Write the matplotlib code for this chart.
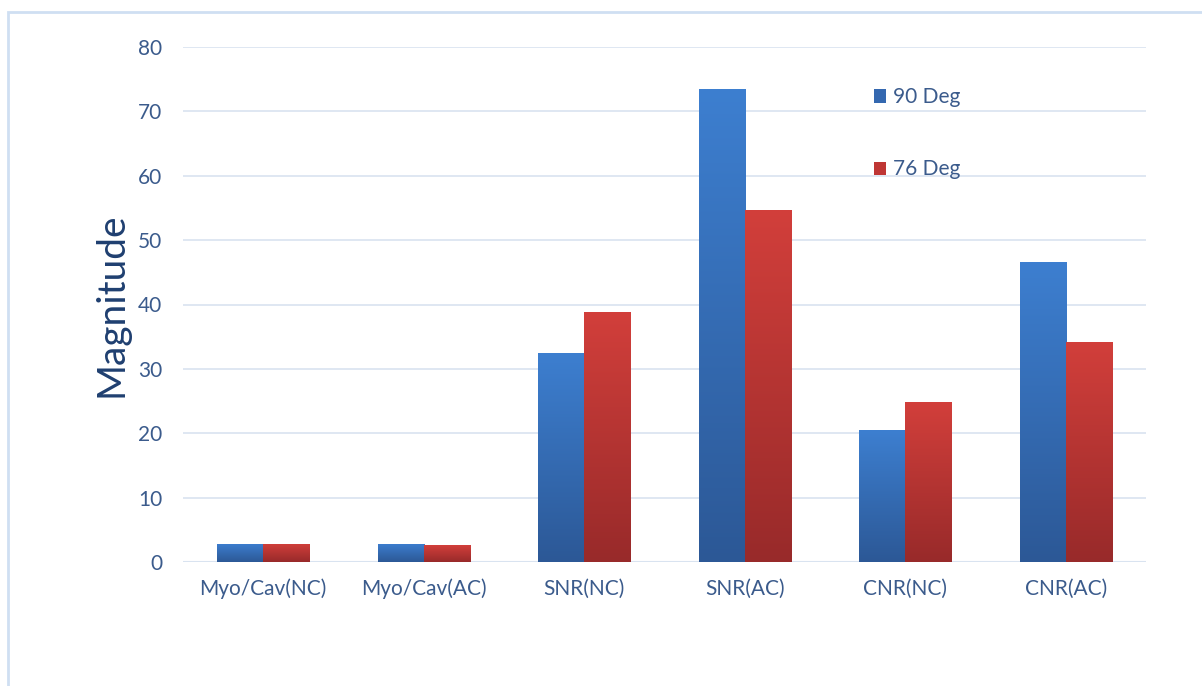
import numpy as np
import matplotlib
matplotlib.use("Agg")
import matplotlib.pyplot as plt
from matplotlib.colors import LinearSegmentedColormap
from matplotlib.patches import Rectangle

# data
categories = ["Myo/Cav(NC)", "Myo/Cav(AC)", "SNR(NC)", "SNR(AC)", "CNR(NC)", "CNR(AC)"]
deg90 = [2.8, 2.8, 32.5, 73.4, 20.5, 46.6]
deg76 = [2.8, 2.6, 38.8, 54.7, 24.8, 34.2]
yticks = [0, 10, 20, 30, 40, 50, 60, 70, 80]

plt.rcParams['font.family'] = ['Lato', 'DejaVu Sans']
txt_col = "#3b5b8c"
grid_col = "#d9e3f0"

fig = plt.figure(figsize=(12.02, 6.86), dpi=100)
ax = fig.add_axes([183 / 1202, 1 - 562 / 686, 963 / 1202, 515 / 686])

# outer chart border (runs off right and bottom edge)
fig.patches.append(Rectangle((8 / 1202, -0.05), 1.1, 1 - 12 / 686 + 0.05,
                             transform=fig.transFigure, fill=False,
                             edgecolor="#cfdff2", linewidth=2))

x = np.arange(len(categories))
w = 0.287

blue_cmap = LinearSegmentedColormap.from_list("b", ["#2c5896", "#3d7fd0"])
red_cmap = LinearSegmentedColormap.from_list("r", ["#982a2a", "#d23f3b"])


def gradient_bars(xs, vals, cmap, face, label):
    bars = ax.bar(xs, vals, w, color=face, label=label, zorder=3, linewidth=0)
    grad = np.linspace(0, 1, 256).reshape(-1, 1)
    for b in bars:
        x0, h = b.get_x(), b.get_height()
        im = ax.imshow(grad, cmap=cmap, origin="lower", aspect="auto",
                       extent=[x0, x0 + b.get_width(), 0, h], zorder=4)
        im.set_clip_path(b)
    return bars


gradient_bars(x - w / 2, deg90, blue_cmap, "#3468b0", "90 Deg")
gradient_bars(x + w / 2, deg76, red_cmap, "#bf3634", "76 Deg")

ax.set_xlim(-0.5, len(categories) - 0.5)
ax.set_ylim(0, 80)
ax.set_yticks(yticks)
ax.set_xticks(x)
ax.set_xticklabels(categories)
ax.yaxis.grid(True, color=grid_col, linewidth=1.2, zorder=0)
ax.set_axisbelow(True)
for s in ax.spines.values():
    s.set_visible(False)
ax.axhline(0, color=grid_col, linewidth=1.5, zorder=2)
ax.tick_params(axis="both", length=0, colors=txt_col, labelsize=15)
ax.tick_params(axis="y", pad=15)
ax.tick_params(axis="x", pad=12)
ax.set_ylabel("Magnitude", fontsize=28, color="#1f3f70", labelpad=6)

ax.legend(loc="upper left", bbox_to_anchor=(0.698, 0.958), frameon=False,
          handlelength=0.6, handleheight=0.6, handletextpad=0.3,
          labelspacing=2.5, fontsize=15, labelcolor=txt_col)

fig.savefig("out.png", dpi=100)
